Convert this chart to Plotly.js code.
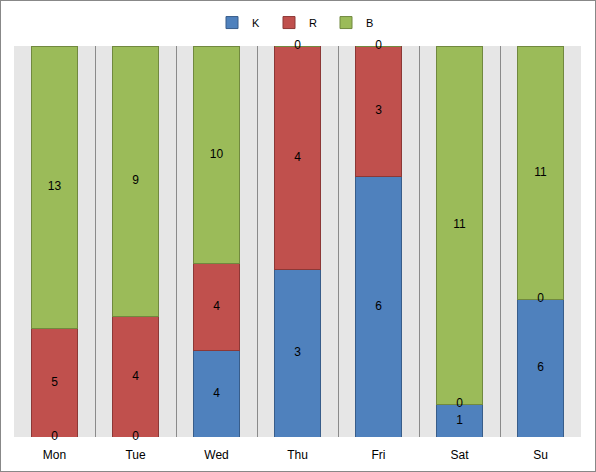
<!DOCTYPE html>
<html>
<head>
<meta charset="utf-8">
<script src="https://cdn.plot.ly/plotly-3.0.1.min.js"></script>
<style>
html,body{margin:0;padding:0;background:#fff;}
#chart{width:594px;height:470px;border:1px solid #888;}
</style>
</head>
<body>
<div id="chart"></div>
<script>
const categories = ["Mon", "Tue", "Wed", "Thu", "Fri", "Sat", "Su"];
const seriesK = [0, 0, 4, 3, 6, 1, 6];
const seriesR = [5, 4, 4, 4, 3, 0, 0];
const seriesB = [13, 9, 10, 0, 0, 11, 11];
const seriesNames = ["K", "R", "B"];
const colors = ["#4f81bd", "#c0504d", "#9bbb59"];
const borders = ["#385d8a", "#8c3836", "#71893f"];

const all = [seriesK, seriesR, seriesB];
const totals = categories.map((c, i) => all.reduce((s, a) => s + a[i], 0));

const traces = all.map((vals, k) => ({
  type: "bar",
  name: seriesNames[k],
  x: categories,
  y: vals,
  marker: {color: colors[k], line: {color: borders[k], width: 1}},
  hoverinfo: "none"
}));

// label positions: midpoints of each stacked segment in percent
const lx = [], ly = [], lt = [];
categories.forEach((c, i) => {
  let cum = 0;
  all.forEach((vals) => {
    const p = vals[i] / totals[i] * 100;
    lx.push(c); ly.push(cum + p / 2); lt.push(String(vals[i]));
    cum += p;
  });
});
traces.push({
  type: "scatter", mode: "text", x: lx, y: ly, text: lt,
  textposition: "middle center",
  textfont: {family: "Liberation Sans, Arial, sans-serif", size: 12, color: "#000"},
  showlegend: false, hoverinfo: "none", cliponaxis: false
});

const layout = {
  width: 594, height: 470,
  margin: {l: 13, r: 14, t: 45, b: 34},
  barmode: "stack",
  barnorm: "percent",
  bargap: 0.44,
  paper_bgcolor: "#fff",
  plot_bgcolor: "#e6e6e6",
  showlegend: true,
  legend: {orientation: "h", traceorder: "normal", x: 0.5, xanchor: "center", y: 0.985, yanchor: "top", yref: "container",
           itemwidth: 30, entrywidth: 12, entrywidthmode: "pixels",
           font: {family: "Liberation Sans, Arial, sans-serif", size: 11, color: "#000"}},
  xaxis: {
    type: "category", tickson: "boundaries", showgrid: true, gridcolor: "#8a8a8a", gridwidth: 1,
    showline: false, ticks: "", zeroline: false, ticklabelstandoff: 9,
    tickfont: {family: "Liberation Sans, Arial, sans-serif", size: 12, color: "#000"}
  },
  yaxis: {range: [0, 100], showticklabels: false, showgrid: false, zeroline: false, showline: false, fixedrange: true},
  font: {family: "Liberation Sans, Arial, sans-serif"}
};

Plotly.newPlot("chart", traces, layout, {displayModeBar: false, staticPlot: true});
</script>
</body>
</html>
